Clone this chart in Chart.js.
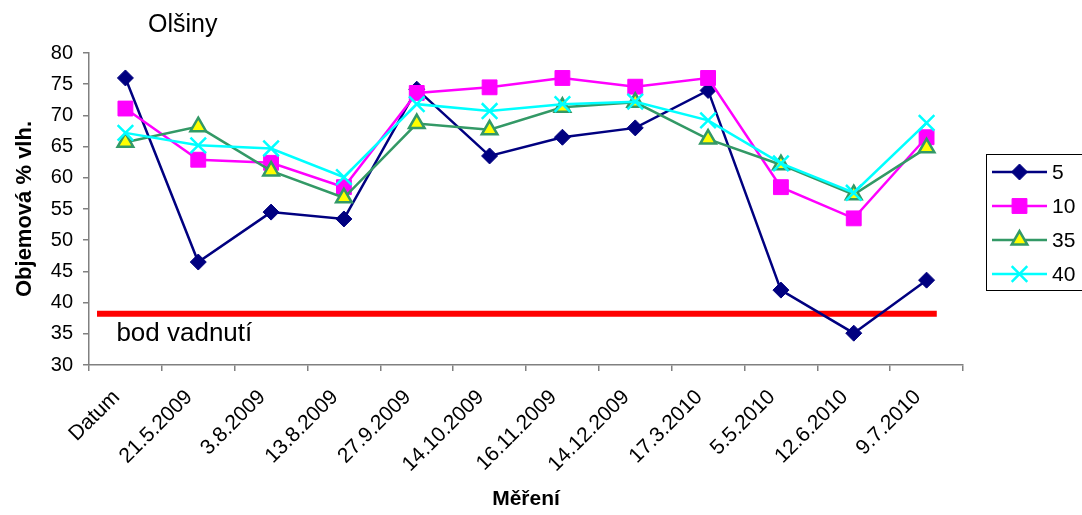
<!DOCTYPE html>
<html>
<head>
<meta charset="utf-8">
<title>Olšiny</title>
<script src="https://cdn.jsdelivr.net/npm/chart.js@4.4.1/dist/chart.umd.min.js"></script>
<style>
  html, body { margin: 0; padding: 0; background: #fff; }
  canvas { display: block; }
</style>
</head>
<body>
<canvas id="chart" width="1082" height="515"></canvas>
<script>
// measurement dates (x categories)
const dates = ['Datum', '21.5.2009', '3.8.2009', '13.8.2009', '27.9.2009', '14.10.2009',
    '16.11.2009', '14.12.2009', '17.3.2010', '5.5.2010', '12.6.2010', '9.7.2010'];

// volumetric moisture per depth
const depth5 = [76, 46.5, 54.5, 53.4, 74.2, 63.5, 66.5, 68, 74, 42, 35.1, 43.6];
const depth10 = [71.1, 62.9, 62.4, 58.5, 73.6, 74.5, 76, 74.6, 76, 58.5, 53.5, 66.5];
const depth35 = [65.7, 68.2, 61.1, 56.8, 68.7, 67.7, 71.3, 72.1, 66.2, 62.1, 57.3, 64.8];
const depth40 = [67.2, 65.2, 64.7, 60.1, 71.8, 70.7, 71.8, 72.2, 69.2, 62.3, 57.6, 68.8];

// wilting point line (value and span in category units)
const wiltingPoint = 38.2;
const wiltingSpan = [-0.39, 11.14];

const yMin = 30;
const yMax = 80;
const yStep = 5;

const FONT = "'Liberation Sans', Arial, sans-serif";
Chart.defaults.font.family = FONT;
Chart.defaults.color = '#000';

const axisGray = '#808080';

const decorPlugin = {
    id: 'decor',
    afterDraw(chart) {
        const ctx = chart.ctx;
        const xr = chart.scales.xr;
        const y = chart.scales.y;
        ctx.save();

        ctx.fillStyle = '#000';
        ctx.textBaseline = 'alphabetic';
        ctx.textAlign = 'left';
        ctx.font = '25px ' + FONT;
        ctx.fillText('Olšiny', 148, 32);
        ctx.font = '26px ' + FONT;
        ctx.fillText('bod vadnutí', xr.getPixelForValue(-0.124), y.getPixelForValue(33.9));

        // legend box
        ctx.strokeStyle = '#000';
        ctx.lineWidth = 1;
        ctx.strokeRect(986.5, 154.5, 120, 136);

        ctx.font = '21px ' + FONT;
        ctx.textBaseline = 'middle';
        const series = chart.data.datasets.filter(d => !d.xAxisID);
        series.forEach((ds, i) => {
            const cy = 172 + i * 34;
            ctx.strokeStyle = ds.borderColor;
            ctx.lineWidth = ds.borderWidth;
            ctx.beginPath();
            ctx.moveTo(992, cy);
            ctx.lineTo(1047, cy);
            ctx.stroke();

            ctx.fillStyle = ds.pointBackgroundColor || ds.backgroundColor;
            ctx.strokeStyle = ds.pointBorderColor || ds.borderColor;
            ctx.lineWidth = ds.pointBorderWidth;
            Chart.helpers.drawPoint(ctx, {
                pointStyle: ds.pointStyle,
                radius: ds.pointRadius,
                borderWidth: ds.pointBorderWidth,
                rotation: 0
            }, 1019.5, cy);

            ctx.fillStyle = '#000';
            ctx.fillText(ds.label, 1052, cy + 1);
        });
        ctx.restore();
    }
};

new Chart(document.getElementById('chart').getContext('2d'), {
    type: 'line',
    data: {
        labels: dates,
        datasets: [{
            label: '5',
            data: depth5,
            borderColor: '#000080',
            backgroundColor: '#000080',
            borderWidth: 2.5,
            pointStyle: 'rectRot',
            pointRadius: 8,
            pointBorderWidth: 1,
            order: 4
        }, {
            label: '10',
            data: depth10,
            borderColor: '#FF00FF',
            backgroundColor: '#FF00FF',
            borderWidth: 2.5,
            pointStyle: 'rect',
            pointRadius: 10.5,
            pointBorderWidth: 1,
            order: 3
        }, {
            label: '35',
            data: depth35,
            borderColor: '#339966',
            backgroundColor: '#FFFF00',
            pointBackgroundColor: '#FFFF00',
            pointBorderColor: '#339966',
            borderWidth: 2.5,
            pointStyle: 'triangle',
            pointRadius: 9,
            pointBorderWidth: 2.5,
            order: 2
        }, {
            label: '40',
            data: depth40,
            borderColor: '#00FFFF',
            backgroundColor: '#00FFFF',
            borderWidth: 2.5,
            pointStyle: 'crossRot',
            pointRadius: 11,
            pointBorderWidth: 2.5,
            order: 1
        }, {
            label: 'bod vadnutí',
            xAxisID: 'xr',
            data: wiltingSpan.map(v => ({ x: v, y: wiltingPoint })),
            borderColor: '#FF0000',
            borderWidth: 6,
            pointRadius: 0,
            order: 5
        }]
    },
    options: {
        responsive: false,
        animation: false,
        layout: { padding: { top: 53, right: 119, bottom: 0, left: 0 } },
        plugins: {
            legend: { display: false },
            tooltip: { enabled: false }
        },
        scales: {
            x: {
                type: 'category',
                offset: true,
                grid: {
                    offset: true,
                    drawOnChartArea: false,
                    tickLength: 6,
                    color: axisGray,
                    lineWidth: 1.5
                },
                border: { color: axisGray, width: 1.5 },
                ticks: {
                    minRotation: 45,
                    maxRotation: 45,
                    autoSkip: false,
                    padding: 14,
                    labelOffset: -9,
                    font: { size: 21 }
                },
                title: {
                    display: true,
                    text: 'Měření',
                    font: { size: 21, weight: 'bold' },
                    padding: { top: 0, bottom: 3 }
                },
                afterFit(s) { s.height = 150; }
            },
            xr: {
                type: 'linear',
                display: false,
                min: -0.5,
                max: 11.5
            },
            y: {
                min: yMin,
                max: yMax,
                grid: {
                    drawOnChartArea: false,
                    tickLength: 6,
                    color: axisGray,
                    lineWidth: 1.5
                },
                border: { color: axisGray, width: 1.5 },
                ticks: {
                    stepSize: yStep,
                    padding: 10,
                    font: { size: 20 }
                },
                title: {
                    display: true,
                    text: 'Objemová % vlh.',
                    font: { size: 22, weight: 'bold' },
                    padding: { top: 12, bottom: 0 }
                },
                afterFit(s) { s.width = 89; }
            }
        }
    },
    plugins: [decorPlugin]
});
</script>
</body>
</html>
